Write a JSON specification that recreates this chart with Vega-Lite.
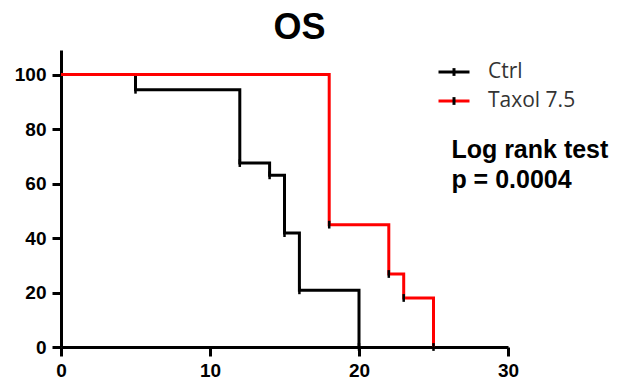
{
  "$schema": "https://vega.github.io/schema/vega-lite/v6.json",
  "autosize": {"type": "none"},
  "padding": {"left": 61, "top": 50, "right": 111, "bottom": 36},
  "width": 447,
  "height": 297,
  "background": "white",
  "title": {"text": "OS", "font": "Liberation Sans", "fontSize": 36, "fontWeight": "bold", "color": "black", "anchor": "middle", "dx": 15, "offset": 3},
  "config": {"view": {"stroke": null}},
  "data": {"values": [
    {"group": "Ctrl", "time": 0, "survival": 100},
    {"group": "Ctrl", "time": 5, "survival": 94.4},
    {"group": "Ctrl", "time": 12, "survival": 67.5},
    {"group": "Ctrl", "time": 14, "survival": 63},
    {"group": "Ctrl", "time": 15, "survival": 41.8},
    {"group": "Ctrl", "time": 16, "survival": 20.8},
    {"group": "Ctrl", "time": 20, "survival": 0},
    {"group": "Taxol 7.5", "time": 0, "survival": 100},
    {"group": "Taxol 7.5", "time": 18, "survival": 44.9},
    {"group": "Taxol 7.5", "time": 22, "survival": 26.8},
    {"group": "Taxol 7.5", "time": 23, "survival": 18},
    {"group": "Taxol 7.5", "time": 25, "survival": 0}
  ]},
  "layer": [
    {
      "mark": {"type": "line", "interpolate": "step-after", "strokeWidth": 3, "clip": false},
      "encoding": {
        "x": {"field": "time", "type": "quantitative", "scale": {"domain": [0, 30], "nice": false},
          "axis": {"values": [0, 10, 20, 30], "title": null, "grid": false, "domainColor": "black", "domainWidth": 3, "tickColor": "black", "tickWidth": 3, "tickSize": 9, "labelFont": "Liberation Sans", "labelFontWeight": "bold", "labelFontSize": 19, "labelColor": "black", "labelPadding": 5, "labelFlush": false}},
        "y": {"field": "survival", "type": "quantitative", "scale": {"domain": [0, 109], "nice": false},
          "axis": {"values": [0, 20, 40, 60, 80, 100], "title": null, "grid": false, "domainColor": "black", "domainWidth": 3, "tickColor": "black", "tickWidth": 3, "tickSize": 9, "labelFont": "Liberation Sans", "labelFontWeight": "bold", "labelFontSize": 19, "labelColor": "black", "labelPadding": 6}},
        "color": {"field": "group", "type": "nominal", "scale": {"range": ["#000000", "#ff0000"]},
          "legend": {"title": null, "orient": "none", "legendX": 376, "legendY": 5, "padding": 0, "symbolType": "M-1,0H1", "symbolSize": 961, "symbolStrokeWidth": 3, "labelFont": "Open Sans", "labelFontSize": 21, "labelColor": "#333333", "labelOffset": 17, "rowPadding": 2}},
        "detail": {"field": "group"}
      }
    },
    {
      "transform": [{"filter": "datum.survival < 100"}],
      "mark": {"type": "point", "filled": false, "stroke": "black", "strokeWidth": 2.5, "size": 961, "opacity": 1, "clip": false},
      "encoding": {
        "x": {"field": "time", "type": "quantitative"},
        "y": {"field": "survival", "type": "quantitative"},
        "shape": {"field": "group", "type": "nominal", "scale": {"domain": ["Ctrl", "Taxol 7.5"], "range": ["M0,-0.25V0.25", "M0,-0.25V0.25"]},
          "legend": {"title": null, "orient": "none", "legendX": 376, "legendY": 5, "padding": 0, "symbolSize": 961, "symbolStrokeWidth": 3, "symbolStrokeColor": "black", "symbolFillColor": "transparent", "labelFont": "Open Sans", "labelFontSize": 21, "labelOpacity": 0, "labelOffset": 17, "rowPadding": 2}}
      }
    },
    {
      "data": {"values": [{"note": "Log rank test"}]},
      "mark": {"type": "text", "text": ["Log rank test", "p = 0.0004"], "align": "left", "baseline": "alphabetic", "font": "Liberation Sans", "fontWeight": "bold", "fontSize": 25, "lineHeight": 30, "fill": "black", "clip": false},
      "encoding": {
        "x": {"datum": 26.2},
        "y": {"datum": 69.4}
      }
    }
  ]
}
